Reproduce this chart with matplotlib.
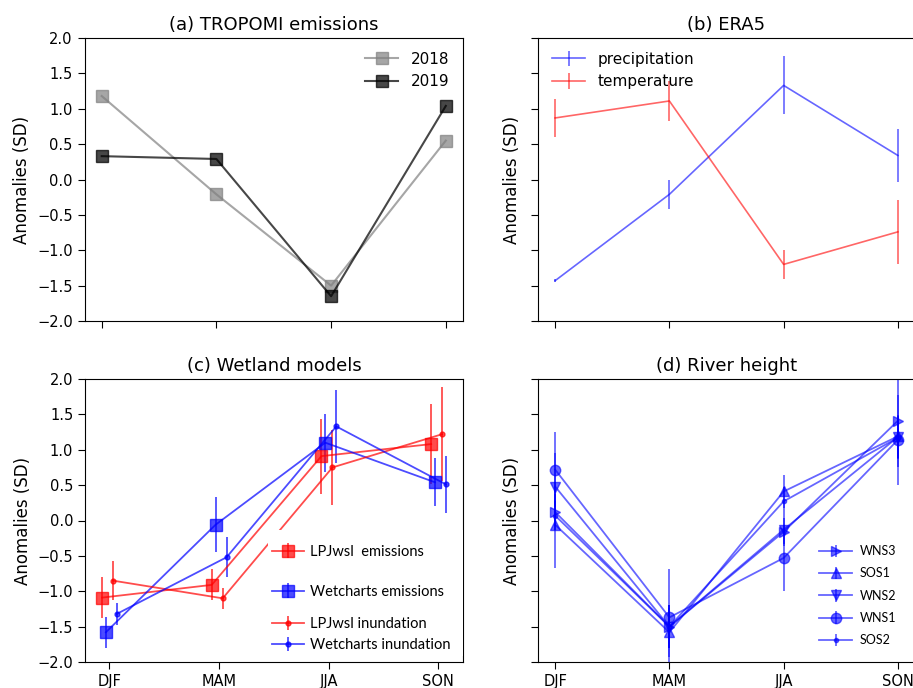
import numpy as np
import matplotlib
matplotlib.use("Agg")
import matplotlib.pyplot as plt
from matplotlib.patches import Rectangle
from matplotlib.legend import Legend

# --- data ---
seasons = ["DJF", "MAM", "JJA", "SON"]

# (a) TROPOMI emissions
tropomi_2018 = [1.18, -0.21, -1.50, 0.55]
tropomi_2019 = [0.33, 0.29, -1.65, 1.04]

# (b) ERA5
precip = [-1.43, -0.21, 1.33, 0.34]
precip_err = [0.02, 0.20, 0.41, 0.375]
temp = [0.87, 1.11, -1.20, -0.74]
temp_err = [0.27, 0.28, 0.20, 0.455]

# (c) Wetland models
lpj_em = [-1.09, -0.91, 0.91, 1.08]
lpj_em_err = [0.29, 0.22, 0.53, 0.56]
wc_em = [-1.58, -0.06, 1.10, 0.54]
wc_em_err = [0.22, 0.39, 0.41, 0.34]
lpj_in = [-0.85, -1.10, 0.75, 1.22]
lpj_in_err = [0.28, 0.15, 0.53, 0.66]
wc_in = [-1.32, -0.52, 1.33, 0.51]
wc_in_err = [0.16, 0.28, 0.52, 0.40]

# (d) River height
river_names = ["WNS3", "SOS1", "WNS2", "WNS1", "SOS2"]
wns3 = [0.12, -1.50, -0.16, 1.41]
wns3_err = [0.25, 0.30, 0.20, 0.65]
sos1 = [-0.06, -1.58, 0.41, 1.19]
sos1_err = [0.61, 0.35, 0.23, 0.30]
wns2 = [0.48, -1.50, -0.13, 1.18]
wns2_err = [0.48, 0.30, 0.20, 0.30]
wns1 = [0.72, -1.37, -0.53, 1.14]
wns1_err = [0.53, 0.68, 0.46, 0.64]
sos2 = [0.07, -1.50, 0.27, 1.17]
sos2_err = [0.20, 0.30, 0.20, 0.30]

x = np.arange(len(seasons))
plt.rcParams['font.size'] = 10.5

W, H = 913, 688
fig = plt.figure(figsize=(W / 100, H / 100), dpi=100)


def px_axes(left, top, right, bottom):
    """Axes placed from pixel edges (top-left origin)."""
    return fig.add_axes([left / W, 1 - bottom / H, (right - left) / W, (bottom - top) / H])


ax_a = px_axes(84.5, 38, 463, 321)
ax_b = px_axes(538, 38, 915, 321)
ax_c = px_axes(85, 379, 463, 662)
ax_d = px_axes(538, 379, 915, 662)

for ax in (ax_a, ax_b, ax_c, ax_d):
    ax.set_ylim(-2, 2)
    ax.set_yticks(np.arange(-2, 2.01, 0.5))
    ax.set_xticks(x)
    ax.tick_params(length=5)
    ax.set_ylabel("Anomalies (SD)", fontsize=12)

for ax in (ax_a, ax_b, ax_d):
    ax.set_xlim(-0.15, 3.15)
ax_c.set_xlim(-0.22, 3.225)

ax_a.set_xticklabels([])
ax_b.set_xticklabels([])
ax_b.set_yticklabels([])
ax_d.set_yticklabels([])
ax_c.set_xticklabels(seasons)
ax_d.set_xticklabels(seasons)

# (a)
ax_a.plot(x, tropomi_2018, color='grey', alpha=0.7, marker='s', markersize=8, lw=1.5, label='2018')
ax_a.plot(x, tropomi_2019, color='k', alpha=0.72, marker='s', markersize=8, lw=1.5, label='2019')
ax_a.legend(loc='upper right', frameon=False, fontsize=11, handlelength=2.2)
ax_a.set_title("(a) TROPOMI emissions", fontsize=13)

# (b)
ax_b.errorbar(x, precip, yerr=precip_err, color='b', alpha=0.6, lw=1.2, label='precipitation')
ax_b.errorbar(x, temp, yerr=temp_err, color='r', alpha=0.6, lw=1.2, label='temperature')
ax_b.legend(loc='upper left', frameon=False, fontsize=11, handlelength=2.2)
ax_b.set_title("(b) ERA5", fontsize=13)

# (c)
offs = [-0.065, -0.03, 0.035, 0.07]
h1 = ax_c.errorbar(x + offs[0], lpj_em, yerr=lpj_em_err, color='r', alpha=0.7, marker='s', ms=8, lw=1.3)
h2 = ax_c.errorbar(x + offs[1], wc_em, yerr=wc_em_err, color='b', alpha=0.7, marker='s', ms=8, lw=1.3)
h3 = ax_c.errorbar(x + offs[2], lpj_in, yerr=lpj_in_err, color='r', alpha=0.7, marker='.', ms=7, lw=1.3)
h4 = ax_c.errorbar(x + offs[3], wc_in, yerr=wc_in_err, color='b', alpha=0.7, marker='.', ms=7, lw=1.3)
ax_c.set_title("(c) Wetland models", fontsize=13)

# white box behind the hand-placed legend entries
ax_c.add_patch(Rectangle((0.484, 0.02), 0.52, 0.445, transform=ax_c.transAxes,
                         facecolor='white', edgecolor='none', zorder=5))
c_labels = ["LPJwsl  emissions", "Wetcharts emissions", "LPJwsl inundation", "Wetcharts inundation"]
c_rows = [0.39, 0.248, 0.134, 0.06]
for h, lab, yy in zip([h1, h2, h3, h4], c_labels, c_rows):
    leg = Legend(ax_c, [h], [lab], loc='center left', bbox_to_anchor=(0.475, yy), frameon=False,
                 borderpad=0, handlelength=2.2, handletextpad=0.45,
                 prop={'family': 'Lato', 'size': 10.5})
    leg.set_zorder(6)
    ax_c.add_artist(leg)

# (d)
river_vals = [wns3, sos1, wns2, wns1, sos2]
river_errs = [wns3_err, sos1_err, wns2_err, wns1_err, sos2_err]
river_marks = ['>', '^', 'v', 'o', '.']
for vals, errs, mk, name in zip(river_vals, river_errs, river_marks, river_names):
    ax_d.errorbar(x, vals, yerr=errs, color='b', alpha=0.6, marker=mk,
                  ms=7.5 if mk != '.' else 6, lw=1.3, label=name)
ax_d.legend(loc='upper left', bbox_to_anchor=(0.73, 0.435), frameon=False, borderpad=0,
            handlelength=2.6, handletextpad=0.6, labelspacing=0.82,
            prop={'family': 'Lato', 'size': 9})
ax_d.set_title("(d) River height", fontsize=13)

fig.savefig("out.png", dpi=100)
